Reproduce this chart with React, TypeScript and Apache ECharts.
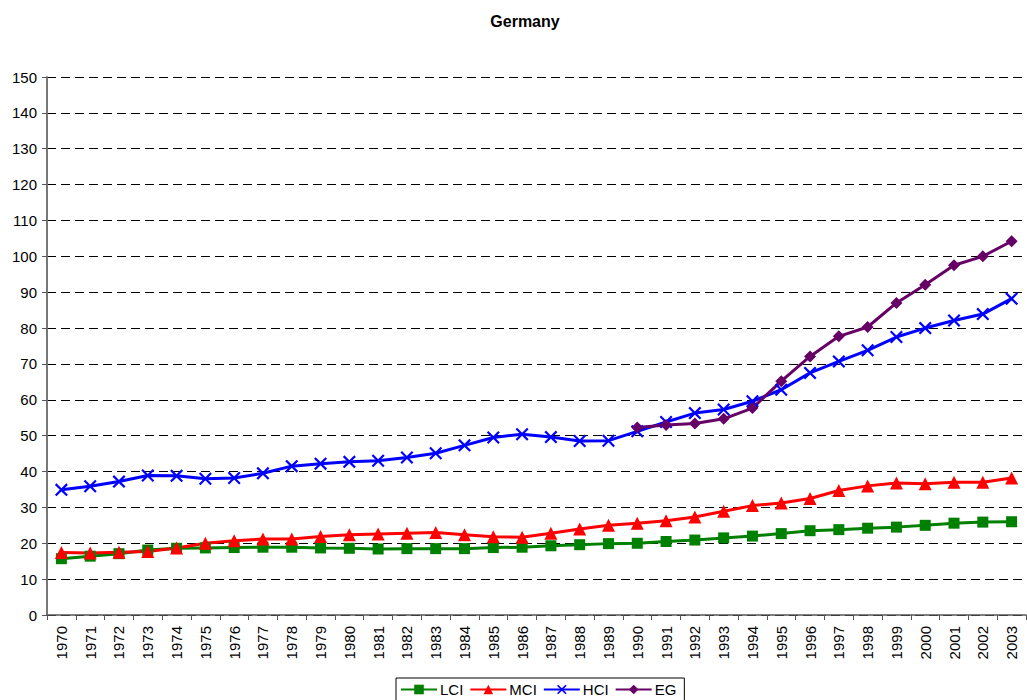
import React, { useEffect, useRef } from "react";
import * as echarts from "echarts";

const years = [
  "1970","1971","1972","1973","1974","1975","1976","1977","1978","1979",
  "1980","1981","1982","1983","1984","1985","1986","1987","1988","1989",
  "1990","1991","1992","1993","1994","1995","1996","1997","1998","1999",
  "2000","2001","2002","2003",
];

const lci = [
  15.7, 16.4, 17.1, 18.1, 18.6, 18.7, 18.8, 18.9, 18.9, 18.7,
  18.6, 18.4, 18.5, 18.5, 18.5, 18.8, 18.9, 19.3, 19.6, 19.9,
  20.0, 20.5, 20.9, 21.5, 22.0, 22.7, 23.5, 23.8, 24.2, 24.5,
  25.0, 25.6, 25.9, 26.0,
];

const mci = [
  17.4, 17.3, 17.5, 17.7, 18.7, 20.0, 20.7, 21.2, 21.2, 21.9,
  22.4, 22.6, 22.8, 23.0, 22.4, 21.8, 21.7, 22.8, 24.0, 25.0,
  25.6, 26.3, 27.3, 28.9, 30.5, 31.2, 32.5, 34.7, 36.0, 36.8,
  36.6, 37.0, 37.0, 38.2,
];

const hci = [
  34.9, 35.9, 37.2, 38.9, 38.8, 38.0, 38.2, 39.5, 41.5, 42.2,
  42.7, 43.0, 43.9, 45.1, 47.3, 49.5, 50.4, 49.6, 48.5, 48.6,
  51.2, 53.8, 56.3, 57.3, 59.6, 62.8, 67.5, 70.7, 73.8, 77.5,
  80.0, 82.1, 83.9, 88.2,
];

const eg: (number | null)[] = [
  null, null, null, null, null, null, null, null, null, null,
  null, null, null, null, null, null, null, null, null, null,
  52.3, 53.0, 53.4, 54.7, 57.7, 65.2, 72.1, 77.7, 80.3, 87.0,
  92.1, 97.5, 100.0, 104.2,
];

const xSymbol =
  "path://M0,1.2L1.2,0L5,3.8L8.8,0L10,1.2L6.2,5L10,8.8L8.8,10L5,6.2L1.2,10L0,8.8L3.8,5Z";

export default function App() {
  const ref = useRef<HTMLDivElement>(null);

  useEffect(() => {
    if (!ref.current) return;
    const chart = echarts.init(ref.current, null, { renderer: "svg" });
    const font = "'Liberation Sans', Arial, sans-serif";
    chart.setOption({
      animation: false,
      backgroundColor: "#ffffff",
      textStyle: { fontFamily: font },
      title: {
        text: "Germany",
        left: 520,
        top: 8,
        textAlign: "center",
        textStyle: { fontSize: 16, fontWeight: "bold", color: "#000", fontFamily: font },
      },
      legend: {
        bottom: -3,
        left: 396,
        padding: [4, 8, 6, 4],
        borderColor: "#000",
        borderWidth: 1,
        itemWidth: 36,
        itemHeight: 12,
        itemGap: 6,
        textStyle: { fontSize: 15, color: "#000", fontFamily: font, padding: [0, 0, 0, -2] },
        data: ["LCI", "MCI", "HCI", "EG"],
      },
      grid: { left: 47, right: 1, top: 77, bottom: 85, containLabel: false },
      xAxis: {
        type: "category",
        data: years,
        boundaryGap: true,
        axisLine: { lineStyle: { color: "#555", width: 1.5 } },
        axisTick: { show: true, alignWithLabel: false, length: 5, lineStyle: { color: "#555" } },
        axisLabel: {
          rotate: 90,
          interval: 0,
          fontSize: 15,
          color: "#000",
          margin: 11,
          fontFamily: font,
        },
      },
      yAxis: {
        type: "value",
        min: 0,
        max: 150,
        interval: 10,
        axisLine: { show: true, lineStyle: { color: "#777", width: 2 } },
        axisTick: { show: true, length: 5, lineStyle: { color: "#555" } },
        axisLabel: { fontSize: 15, color: "#000", margin: 10, fontFamily: font },
        splitLine: {
          show: true,
          lineStyle: { color: "#000", type: [9, 5], width: 1 },
        },
      },
      series: [
        {
          name: "LCI",
          type: "line",
          data: lci,
          symbol: "rect",
          symbolSize: 11,
          lineStyle: { color: "#008000", width: 3 },
          itemStyle: { color: "#008000" },
        },
        {
          name: "MCI",
          type: "line",
          data: mci,
          symbol: "triangle",
          symbolSize: 13,
          lineStyle: { color: "#ff0000", width: 3 },
          itemStyle: { color: "#ff0000" },
        },
        {
          name: "HCI",
          type: "line",
          data: hci,
          symbol: xSymbol,
          symbolSize: 13,
          lineStyle: { color: "#0000ff", width: 3 },
          itemStyle: { color: "#0000ff" },
        },
        {
          name: "EG",
          type: "line",
          data: eg,
          symbol: "diamond",
          symbolSize: 12,
          connectNulls: false,
          lineStyle: { color: "#660066", width: 3 },
          itemStyle: { color: "#660066" },
        },
      ],
    });
    return () => chart.dispose();
  }, []);

  return (
    <div
      ref={ref}
      style={{ position: "fixed", left: 0, top: 0, width: 1027, height: 700, background: "#fff" }}
    />
  );
}
